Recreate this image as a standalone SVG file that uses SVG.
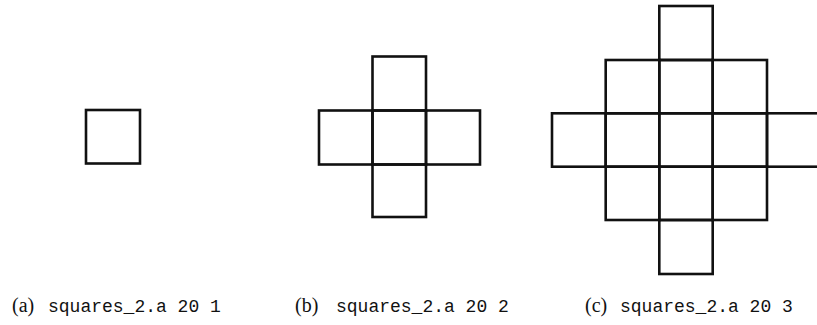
<svg xmlns="http://www.w3.org/2000/svg" width="817" height="325" viewBox="0 0 817 325">
<style>
rect.sq{fill:none;stroke:#111;stroke-width:2.6}
.lab{font-family:"Liberation Serif",serif;font-size:20px;fill:#111}
.code{font-family:"Liberation Mono",monospace;font-size:18px;fill:#111}
</style>
<rect width="817" height="325" fill="#fff"/>
<g id="fig-a">
<rect class="sq" x="86" y="110" width="54" height="53.5"/>
</g>
<g id="fig-b">
<rect class="sq" x="372.5" y="56.5" width="53.5" height="54"/>
<rect class="sq" x="319" y="110.5" width="53.5" height="54"/>
<rect class="sq" x="372.5" y="110.5" width="53.5" height="54"/>
<rect class="sq" x="426" y="110.5" width="54" height="54"/>
<rect class="sq" x="372.5" y="164.5" width="53.5" height="52.5"/>
</g>
<g id="fig-c">
<rect class="sq" x="659.3" y="6" width="53.4" height="54"/>
<rect class="sq" x="605.7" y="60" width="53.6" height="53.3"/>
<rect class="sq" x="659.3" y="60" width="53.4" height="53.3"/>
<rect class="sq" x="712.7" y="60" width="54.3" height="53.3"/>
<rect class="sq" x="552" y="113.3" width="53.7" height="53.4"/>
<rect class="sq" x="605.7" y="113.3" width="53.6" height="53.4"/>
<rect class="sq" x="659.3" y="113.3" width="53.4" height="53.4"/>
<rect class="sq" x="712.7" y="113.3" width="54.3" height="53.4"/>
<rect class="sq" x="767" y="113.3" width="53.6" height="53.4"/>
<rect class="sq" x="605.7" y="166.7" width="53.6" height="53.3"/>
<rect class="sq" x="659.3" y="166.7" width="53.4" height="53.3"/>
<rect class="sq" x="712.7" y="166.7" width="54.3" height="53.3"/>
<rect class="sq" x="659.3" y="220" width="53.4" height="54"/>
</g>
<g id="captions">
<text y="312"><tspan class="lab" x="12">(a)</tspan><tspan class="code" x="48">squares_2.a 20 1</tspan></text>
<text y="312"><tspan class="lab" x="295">(b)</tspan><tspan class="code" x="336">squares_2.a 20 2</tspan></text>
<text y="312"><tspan class="lab" x="585">(c)</tspan><tspan class="code" x="620">squares_2.a 20 3</tspan></text>
</g>
</svg>
